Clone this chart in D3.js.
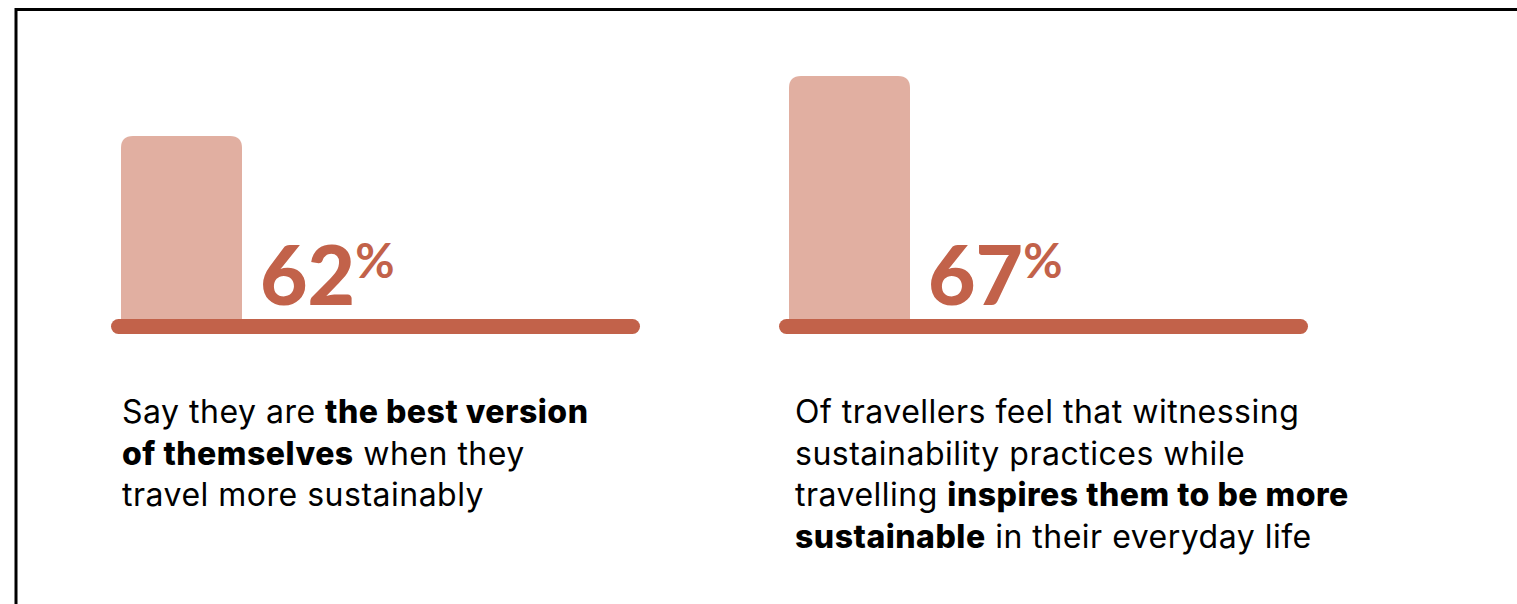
<!DOCTYPE html>
<html>
<head>
<meta charset="utf-8">
<script src="https://cdn.jsdelivr.net/npm/d3@7"></script>
<style>
  html, body { margin: 0; padding: 0; background: #fff; }
  svg { display: block; }
</style>
</head>
<body>
<div id="chart"></div>
<script>
// chart values
const values = [62, 67];
const labels = ["62", "67"];
// caption lines, each line is a list of [text, bold] pieces
const captions = [
  [
    [["Say they are ", false], ["the best version", true]],
    [["of themselves", true], [" when they", false]],
    [["travel more sustainably", false]]
  ],
  [
    [["Of travellers feel that witnessing", false]],
    [["sustainability practices while", false]],
    [["travelling ", false], ["inspires them to be more", true]],
    [["sustainable", true], [" in their everyday life", false]]
  ]
];

const width = 1517;
const height = 604;
const lightColor = "#e1afa1";
const darkColor = "#c2624a";
const baseY = 320;

let svg = d3.select("#chart")
  .append("svg")
  .attr("width", width)
  .attr("height", height);

// frame (top + left edge only visible)
svg.append("path")
  .attr("d", `M16,${height} L16,9.5 L${width},9.5`)
  .attr("fill", "none")
  .attr("stroke", "#000")
  .attr("stroke-width", 3);

// one panel per value
let panel = d3.scaleBand()
  .domain(d3.range(values.length))
  .range([111, 111 + 668 * values.length])
  .paddingInner(0);

// the original bars do not start at zero, so the scale is fitted to the picture
let y = d3.scaleLinear()
  .domain([62, 67])
  .range([136, 76]);

const barW = 121;
const r = 12;

function barPath(x, top) {
  return `M${x},${baseY} L${x},${top + r} Q${x},${top} ${x + r},${top}
    L${x + barW - r},${top} Q${x + barW},${top} ${x + barW},${top + r}
    L${x + barW},${baseY} Z`;
}

let g = svg.selectAll(".panel")
  .data(values)
  .enter()
  .append("g")
  .attr("class", "panel");

g.append("path")
  .attr("d", (d, i) => barPath(panel(i) + 10, y(d)))
  .attr("fill", lightColor);

// baseline
g.append("rect")
  .attr("x", (d, i) => panel(i))
  .attr("y", baseY - 1)
  .attr("width", 529)
  .attr("height", 15)
  .attr("rx", 7.5)
  .attr("fill", darkColor);

// value label
let lab = g.append("text")
  .attr("x", (d, i) => panel(i) + 10 + barW + 18)
  .attr("y", 305)
  .attr("fill", darkColor)
  .style("font-family", "Lato, sans-serif")
  .style("font-weight", 900)
  .style("font-size", "82px")
  .text((d, i) => labels[i]);

lab.append("tspan")
  .attr("dy", -27)
  .style("font-size", "48px")
  .style("font-weight", 700)
  .text("%");

// captions
const captionX = [122, 795];
g.each(function (d, i) {
  let t = d3.select(this).append("text")
    .attr("fill", "#000")
    .style("font-family", "Inter, sans-serif")
    .style("font-size", "32px")
    .style("letter-spacing", "0.5px");
  captions[i].forEach((line, li) => {
    line.forEach((piece, pi) => {
      let s = t.append("tspan")
        .style("font-weight", piece[1] ? 800 : 400)
        .text(piece[0]);
      if (pi === 0) {
        s.attr("x", captionX[i]).attr("y", 423 + li * 41.5);
      }
    });
  });
});
</script>
</body>
</html>
